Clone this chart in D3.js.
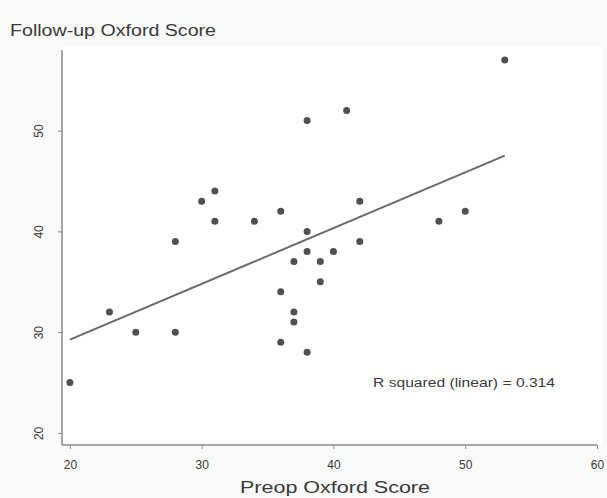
<!DOCTYPE html>
<html>
<head>
<meta charset="utf-8">
<script src="https://cdn.jsdelivr.net/npm/d3@7"></script>
<style>
  html, body { margin: 0; padding: 0; background: #f9f9f9; }
  svg { display: block; font-family: "Liberation Sans", Arial, sans-serif; }
</style>
</head>
<body>
<div id="chart"></div>
<script>
// Preop vs follow-up Oxford scores
const preop = [20, 23, 25, 28, 28, 30, 31, 31, 34, 36, 36, 36, 37, 37, 37,
  38, 38, 38, 38, 39, 39, 40, 41, 42, 42, 48, 50, 53];
const followup = [25, 32, 30, 30, 39, 43, 44, 41, 41, 42, 34, 29, 37, 32, 31,
  51, 40, 38, 28, 37, 35, 38, 52, 43, 39, 41, 42, 57];
const xTicks = [20, 30, 40, 50, 60];
const yTicks = [20, 30, 40, 50];
const rSquaredLabel = "R squared (linear) = 0.314";

const width = 607;
const height = 498;

const svg = d3.select("#chart").append("svg")
  .attr("width", width)
  .attr("height", height);

// plot panel
svg.append("rect")
  .attr("x", 62).attr("y", 46)
  .attr("width", 540).attr("height", 399)
  .attr("fill", "#ffffff");

const x = d3.scaleLinear().domain([19.4, 60]).range([62, 597]);
const y = d3.scaleLinear().domain([18.8, 58]).range([445, 50]);

const axisColor = "#8a8a8a";
const textColor = "#3a3a3a";

// x axis
const xAxis = svg.append("g")
  .attr("transform", "translate(0,445)")
  .call(d3.axisBottom(x).tickValues(xTicks).tickSize(4).tickPadding(11).tickFormat(d3.format("d")));
xAxis.select(".domain").attr("stroke", axisColor).attr("stroke-width", 1.5)
  .attr("d", `M${x.range()[0]},0H${x.range()[1]}`);
xAxis.selectAll(".tick line").attr("stroke", axisColor);
xAxis.selectAll(".tick text")
  .attr("fill", textColor)
  .attr("font-size", 12)
  .attr("font-family", "Liberation Sans, Arial, sans-serif");

// y axis, labels rotated like Stata
const yAxis = svg.append("g")
  .attr("transform", "translate(62,0)")
  .call(d3.axisLeft(y).tickValues(yTicks).tickSize(4).tickFormat(d3.format("d")));
yAxis.select(".domain").attr("stroke", axisColor).attr("stroke-width", 1.5)
  .attr("d", `M0,${y.range()[0]}V${y.range()[1]}`);
yAxis.selectAll(".tick line").attr("stroke", axisColor);
yAxis.selectAll(".tick text")
  .attr("fill", textColor)
  .attr("font-size", 12)
  .attr("font-family", "Liberation Sans, Arial, sans-serif")
  .attr("x", null).attr("dy", null)
  .attr("text-anchor", "middle")
  .attr("transform", "translate(-23,0) rotate(-90)")
  .attr("dominant-baseline", "central");

// least-squares fit over the data range
const n = preop.length;
const mx = d3.mean(preop);
const my = d3.mean(followup);
let sxy = 0, sxx = 0;
for (let i = 0; i < n; i++) {
  sxy += (preop[i] - mx) * (followup[i] - my);
  sxx += (preop[i] - mx) * (preop[i] - mx);
}
const slope = sxy / sxx;
const intercept = my - slope * mx;
const [x0, x1] = d3.extent(preop);

svg.append("line")
  .attr("x1", x(x0)).attr("y1", y(intercept + slope * x0))
  .attr("x2", x(x1)).attr("y2", y(intercept + slope * x1))
  .attr("stroke", "#6a6a6a")
  .attr("stroke-width", 2);

// points
svg.append("g")
  .selectAll("circle")
  .data(preop.map((p, i) => ({ p, f: followup[i] })))
  .join("circle")
  .attr("cx", (d) => x(d.p))
  .attr("cy", (d) => y(d.f))
  .attr("r", 3.5)
  .attr("fill", "#505050");

// titles (the scan is a bit stretched sideways, hence textLength)
svg.append("text")
  .attr("x", 10).attr("y", 36)
  .attr("font-size", 16)
  .attr("textLength", 206)
  .attr("lengthAdjust", "spacingAndGlyphs")
  .attr("fill", textColor)
  .text("Follow-up Oxford Score");

svg.append("text")
  .attr("x", 240).attr("y", 493)
  .attr("font-size", 16)
  .attr("textLength", 190)
  .attr("lengthAdjust", "spacingAndGlyphs")
  .attr("fill", textColor)
  .text("Preop Oxford Score");

svg.append("text")
  .attr("x", 373).attr("y", 387)
  .attr("font-size", 12)
  .attr("textLength", 182)
  .attr("lengthAdjust", "spacingAndGlyphs")
  .attr("fill", textColor)
  .text(rSquaredLabel);
</script>
</body>
</html>
